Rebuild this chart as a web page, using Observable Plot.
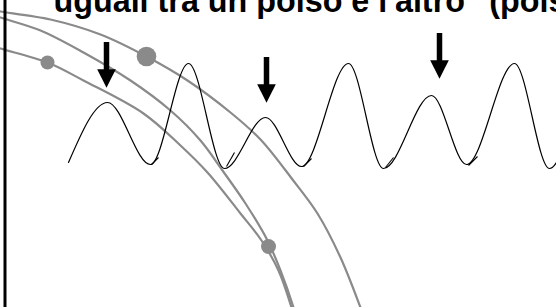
<!DOCTYPE html>
<html>
<head>
<meta charset="utf-8">
<script src="https://cdn.jsdelivr.net/npm/d3@7"></script>
<script src="https://cdn.jsdelivr.net/npm/@observablehq/plot@0.6"></script>
<style>
  html, body { margin: 0; padding: 0; background: white; overflow: hidden; }
</style>
</head>
<body>
<div id="chart"></div>
<script>
// ---- data (picture units: x to the right, y downward) ----
const titleText = ["uguali tra un polso e l'altro\" (polso"];

// pulse wave: alternating peaks and troughs
const waveX = [68, 107, 150, 188, 224, 265, 301, 348, 383, 431, 466, 514, 549, 566];
const waveY = [162, 102, 164, 63, 168, 117, 166, 63, 168, 95, 164, 63, 168, 140];

// small tails at the troughs
const hookX1 = [151, 226, 303, 385, 468];
const hookY1 = [164, 166, 166, 167, 165];
const hookX2 = [158, 234, 311, 393, 477];
const hookY2 = [157, 152, 158, 157, 156];

// arrows marking the weak beats
const arrowX = [106, 266, 439];
const arrowTop = [42, 57, 33];
const arrowTip = [87, 102, 78];

// grey arcs
const arcAX = [-5, 0, 50, 100, 146, 187, 230, 260, 292, 317, 340, 360, 364];
const arcAY = [10, 11, 19, 34, 56, 80, 112, 139, 179, 213, 257, 307, 318];
const arcBX = [-5, 0, 40, 83, 130, 170, 200, 222, 245, 267, 280, 293, 296];
const arcBY = [15, 17, 30, 52, 80, 110, 140, 170, 203, 240, 270, 307, 318];
const arcCX = [-5, 0, 47, 83, 143, 180, 207, 240, 261, 278, 291, 294];
const arcCY = [46, 48, 62, 80, 113, 145, 172, 213, 240, 270, 307, 318];

// grey dots on the arcs
const dotX = [146, 47, 268];
const dotY = [56, 62, 246];
const dotR = [9.8, 7, 7.5];

// ---- tables built from the arrays ----
const wave = waveX.map((x, i) => ({x, y: waveY[i]}));
const hooks = hookX1.map((x1, i) => ({x1, y1: hookY1[i], x2: hookX2[i], y2: hookY2[i]}));
const arrows = arrowX.map((x, i) => ({x, top: arrowTop[i], tip: arrowTip[i]}));
const arcs = [
  ...arcAX.map((x, i) => ({arc: "A", x, y: arcAY[i]})),
  ...arcBX.map((x, i) => ({arc: "B", x, y: arcBY[i]})),
  ...arcCX.map((x, i) => ({arc: "C", x, y: arcCY[i]}))
];
const dots = dotX.map((x, i) => ({x, y: dotY[i], r: dotR[i]}));

const grey = "#8a8a8a";
const downTriangle = {
  draw(ctx, size) {
    const r = Math.sqrt(size / Math.PI);
    ctx.moveTo(-r, -r);
    ctx.lineTo(r, -r);
    ctx.lineTo(0, r);
    ctx.closePath();
  }
};

const chart = Plot.plot({
  width: 556,
  height: 307,
  margin: 0,
  style: {background: "white", overflow: "hidden"},
  x: {domain: [0, 556], range: [0, 556], axis: null},
  y: {domain: [0, 307], range: [0, 307], axis: null},
  r: {type: "identity"},
  marks: [
    Plot.line(arcs, {x: "x", y: "y", z: "arc", stroke: grey, strokeWidth: 2.2, curve: "catmull-rom"}),
    Plot.dot(dots, {x: "x", y: "y", r: "r", fill: grey, stroke: "none"}),
    Plot.line(wave, {x: "x", y: "y", stroke: "black", strokeWidth: 1.2, curve: "monotone-x"}),
    Plot.link(hooks, {x1: "x1", y1: "y1", x2: "x2", y2: "y2", stroke: "black", strokeWidth: 1.1}),
    Plot.ruleX(arrows, {x: "x", y1: "top", y2: "tip", stroke: "black", strokeWidth: 5.5, strokeLinecap: "butt", insetBottom: 10}),
    Plot.dot(arrows, {x: "x", y: "tip", r: 9.3, dy: -9, symbol: downTriangle, fill: "black", stroke: "none"}),
    Plot.ruleX([4.5], {stroke: "black", strokeWidth: 3}),
    Plot.text(titleText, {
      x: 53, y: 11, text: d => d, textAnchor: "start", lineAnchor: "bottom",
      fontSize: 32.3, fontWeight: "bold", fontFamily: "Liberation Sans, Arial, sans-serif", fill: "black"
    })
  ]
});
document.getElementById("chart").appendChild(chart);
</script>
</body>
</html>
